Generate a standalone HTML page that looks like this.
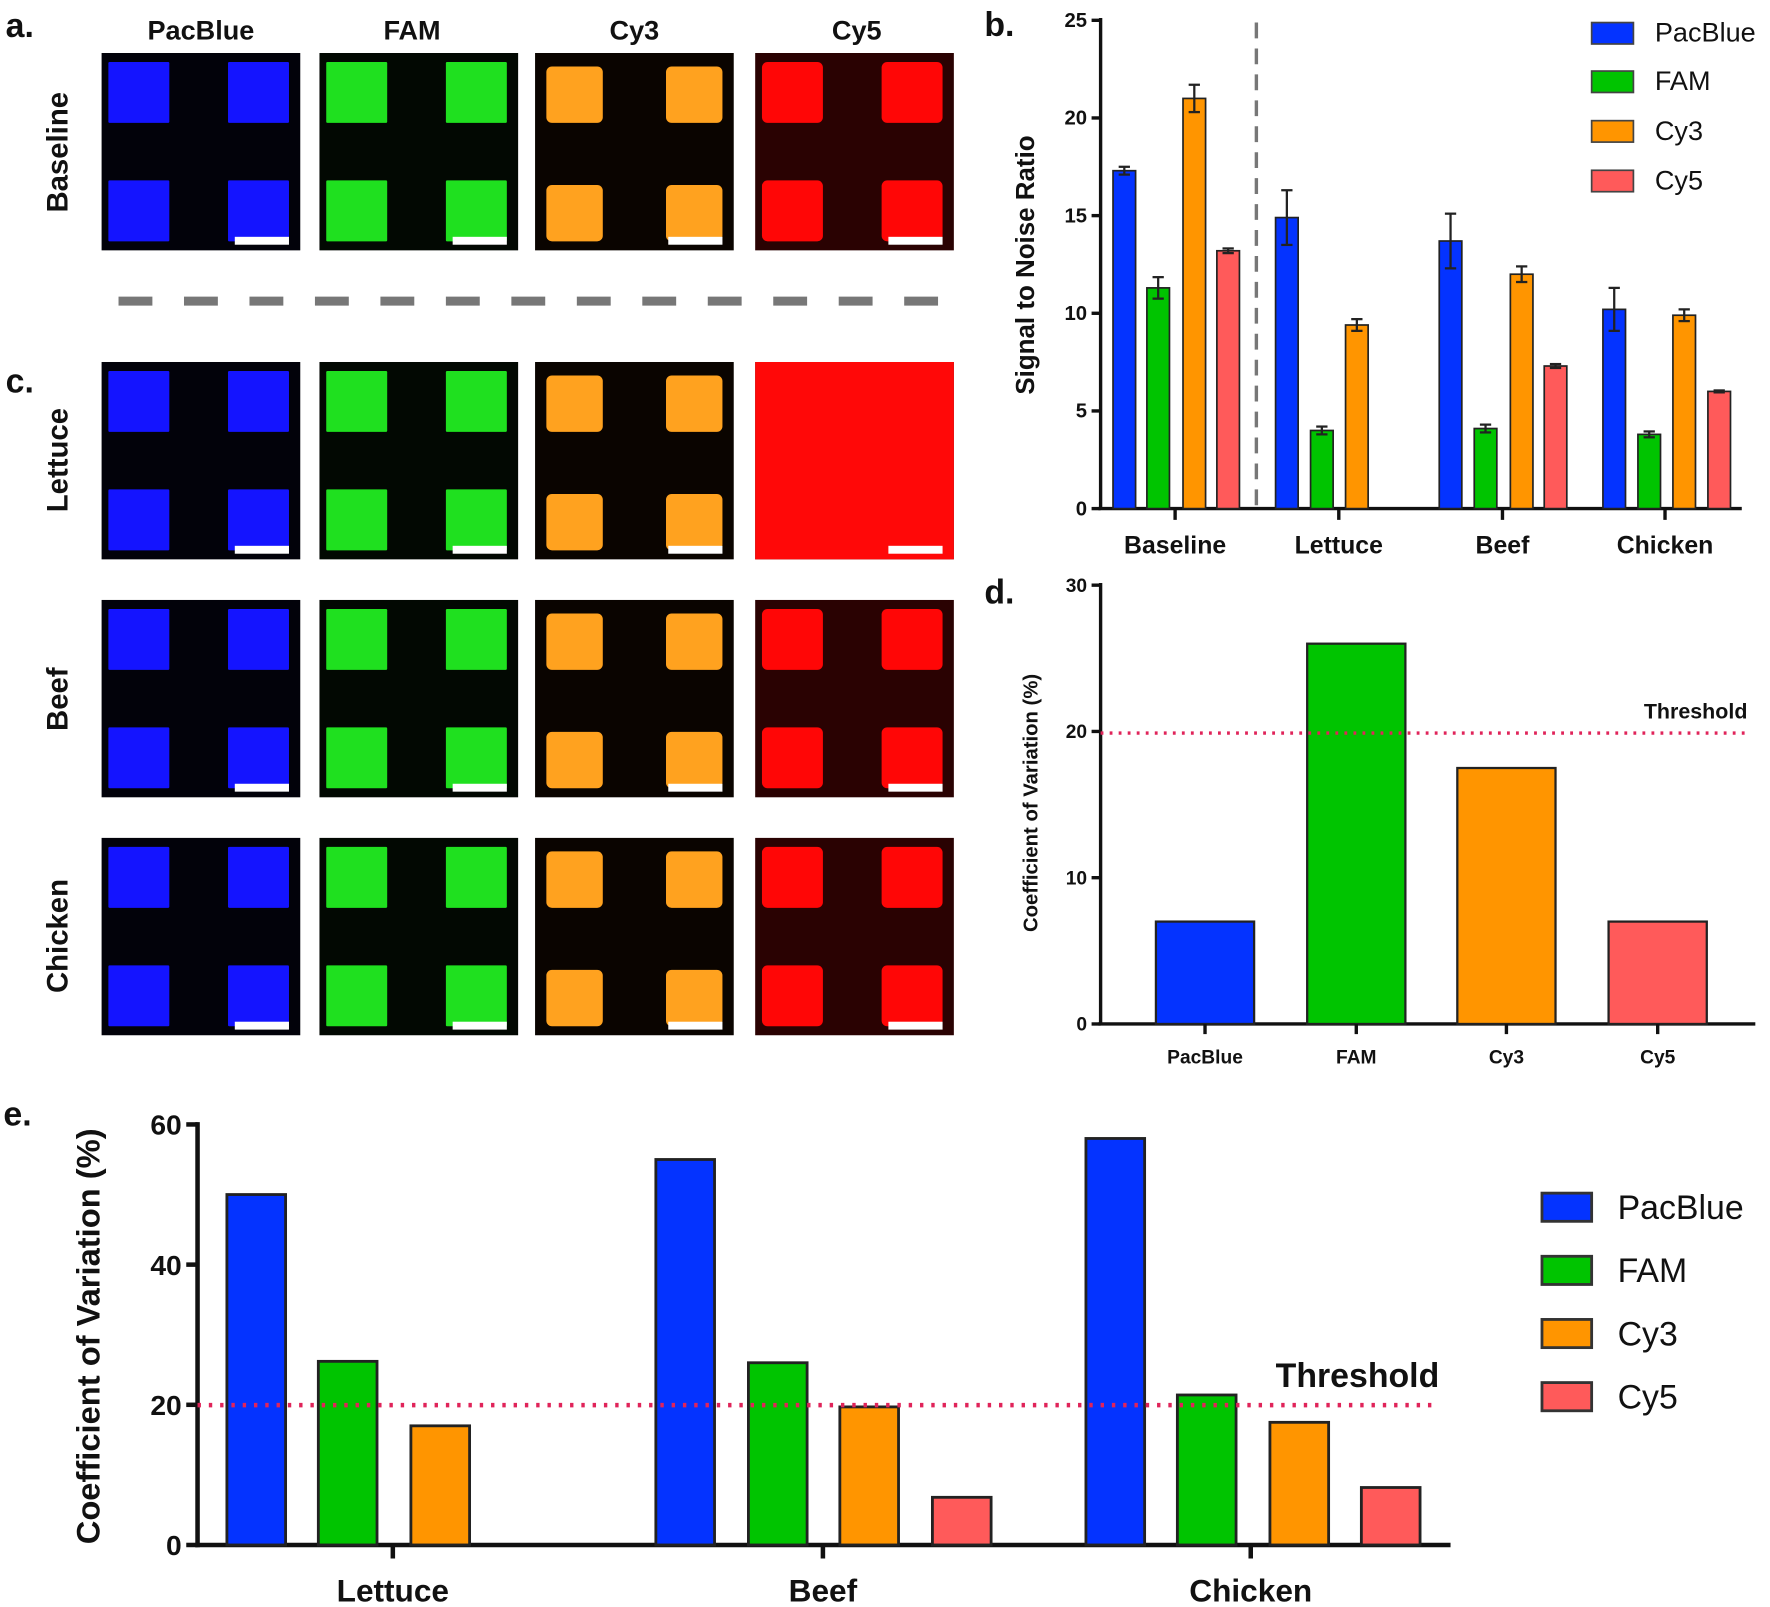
<!DOCTYPE html>
<html><head><meta charset="utf-8"><style>
html,body{margin:0;padding:0;background:#fff}
svg{display:block}
text{font-family:"Liberation Sans",Arial,sans-serif;font-weight:bold;fill:#111}
</style></head><body>
<svg id="s" width="1770" height="1607" viewBox="0 0 1568 1425" preserveAspectRatio="none" xmlns="http://www.w3.org/2000/svg"></svg>
<script>
var s=document.getElementById('s');var h='';
var B='#0433ff',G='#00c400',O='#ff9500',R='#ff5a5a';
function r(x,y,w,hh,f,extra){h+='<rect x="'+x+'" y="'+y+'" width="'+w+'" height="'+hh+'" fill="'+f+'" '+(extra||'')+'/>';}
function t(x,y,str,sz,anc,extra){h+='<text x="'+x+'" y="'+y+'" font-size="'+sz+'" text-anchor="'+(anc||'middle')+'" '+(extra||'')+'>'+str+'</text>';}
function l(x1,y1,x2,y2,c,w,extra){h+='<line x1="'+x1+'" y1="'+y1+'" x2="'+x2+'" y2="'+y2+'" stroke="'+c+'" stroke-width="'+w+'" '+(extra||'')+'/>';}
t(5,33,'a.',30,'start');t(5,348,'c.',30,'start');t(872,32,'b.',30,'start');t(872,535,'d.',30,'start');t(3,998,'e.',30,'start');
[['PacBlue',178],['FAM',365],['Cy3',562],['Cy5',759]].forEach(function(p){t(p[1],35,p[0],24);});
var cols=[90,283,474,669];var rows=[47,321,532,743];
var sq=['#1414ff','#1fe01f','#ffa21f','#ff0606'];
var bg=['#02020a','#020802','#0a0400','#2a0202'];
rows.forEach(function(y,ri){
  cols.forEach(function(x,ci){
    r(x,y,176,175,bg[ci]);
    if(ri==1&&ci==3){r(x,y,176,175,'#ff0808');}
    else{
      var rx=ci>=2?5:1;
      [[x+6,y+8],[x+112,y+8],[x+6,y+113],[x+112,y+113]].forEach(function(p){
        var a=p[0],b=p[1];var w=ci==2?50:54;if(ci==2){a+=4;b+=4;}
        r(a,b,w,w,sq[ci],'rx="'+rx+'"');
      });
    }
    r(x+118,y+163,48,7,'#fff');
  });
});
[['Baseline',135],['Lettuce',408],['Beef',620],['Chicken',830]].forEach(function(p){t(68,p[1],p[0],26,'middle','transform="rotate(-90 68 '+p[1]+')" dy="-8"');});
l(105,267,835,267,'#777',8,'stroke-dasharray="30,28"');
(function(){var X0=975,Y0=451,k=17.32;
 l(X0,16,X0,Y0+1,'#111',3);l(X0-2,Y0,1543,Y0,'#111',3);
 for(var v=0;v<=25;v+=5){var y=Y0-v*k;l(X0-8,y,X0,y,'#111',3);t(X0-12,y+6,v,18,'end');}
 [['Baseline',1041],['Lettuce',1186],['Beef',1331],['Chicken',1475]].forEach(function(p){l(p[1],Y0,p[1],Y0+10,'#111',3);t(p[1],491,p[0],22);});
 l(1113,20,1113,448,'#777',3,'stroke-dasharray="14,9"');
 var bars=[[986,17.3,.2,B],[1016,11.3,.55,G],[1048,21,.7,O],[1078,13.2,.12,R],
 [1130,14.9,1.4,B],[1161,4.0,.2,G],[1192,9.4,.3,O],
 [1275,13.7,1.4,B],[1306,4.1,.2,G],[1338,12,.4,O],[1368,7.3,.1,R],
 [1420,10.2,1.1,B],[1451,3.8,.15,G],[1482,9.9,.3,O],[1513,6.0,.05,R]];
 bars.forEach(function(b){var x=b[0],v=b[1],e=b[2],c=b[3];var y=Y0-v*k;r(x,y,20,v*k,c,'stroke="#222" stroke-width="1.5"');
  var cx=x+10,y1=Y0-(v+e)*k,y2=Y0-(v-e)*k;l(cx,y1,cx,y2,'#222',2);l(cx-5,y1,cx+5,y1,'#222',2);l(cx-5,y2,cx+5,y2,'#222',2);});
 t(916,235,'Signal to Noise Ratio',23,'middle','transform="rotate(-90 916 235)"');
 [['PacBlue',B,20],['FAM',G,63],['Cy3',O,107],['Cy5',R,151]].forEach(function(p){r(1410,p[2],37,19,p[1],'stroke="#444" stroke-width="1.5"');t(1466,p[2]+17,p[0],24,'start','style="font-weight:normal"');});
})();
(function(){var X0=975,Y0=908,k=12.97;
 l(X0,517,X0,Y0+1,'#111',3);l(X0-2,Y0,1555,Y0,'#111',3);
 for(var v=0;v<=30;v+=10){var y=Y0-v*k;l(X0-8,y,X0,y,'#111',3);t(X0-12,y+6,v,17,'end');}
 [[1024,7,B,'PacBlue'],[1158,26,G,'FAM'],[1291,17.5,O,'Cy3'],[1425,7,R,'Cy5']].forEach(function(p){
  var x=p[0],v=p[1];r(x,Y0-v*k,87,v*k,p[2],'stroke="#222" stroke-width="2"');l(x+43.5,Y0,x+43.5,Y0+9,'#111',3);t(x+43.5,943,p[3],17);});
 l(X0,650,1550,650,'#e0245a',3,'stroke-dasharray="2.5,5.5"');
 t(1548,637,'Threshold',19,'end');
 t(919,712,'Coefficient of Variation (%)',18,'middle','transform="rotate(-90 919 712)"');
})();
(function(){var X0=175,Y0=1370,k=6.215;
 l(X0,995,X0,Y0+2,'#111',4);l(X0-2,Y0,1285,Y0,'#111',4);
 for(var v=0;v<=60;v+=20){var y=Y0-v*k;l(X0-10,y,X0,y,'#111',4);t(X0-14,y+9,v,25,'end');}
 var eb=[[201,50,B],[282,26.2,G],[364,17,O],[581,55,B],[663,26,G],[744,19.7,O],[826,6.8,R],[962,58,B],[1043,21.4,G],[1125,17.5,O],[1206,8.2,R]];
 eb.forEach(function(b){r(b[0],Y0-b[1]*k,52,b[1]*k,b[2],'stroke="#222" stroke-width="2.5"');});
 [['Lettuce',348],['Beef',729],['Chicken',1108]].forEach(function(p){l(p[1],Y0,p[1],Y0+12,'#111',4);t(p[1],1420,p[0],28);});
 l(X0,1246,1275,1246,'#e0245a',4,'stroke-dasharray="3,7"');
 t(1275,1230,'Threshold',30,'end');
 t(88,1185,'Coefficient of Variation (%)',29,'middle','transform="rotate(-90 88 1185)"');
 [['PacBlue',B,1058],['FAM',G,1114],['Cy3',O,1170],['Cy5',R,1226]].forEach(function(p){r(1366,p[2],44,25,p[1],'stroke="#333" stroke-width="2.5"');t(1433,p[2]+23,p[0],30,'start','style="font-weight:normal"');});
})();
s.innerHTML=h;
</script>
</body></html>
